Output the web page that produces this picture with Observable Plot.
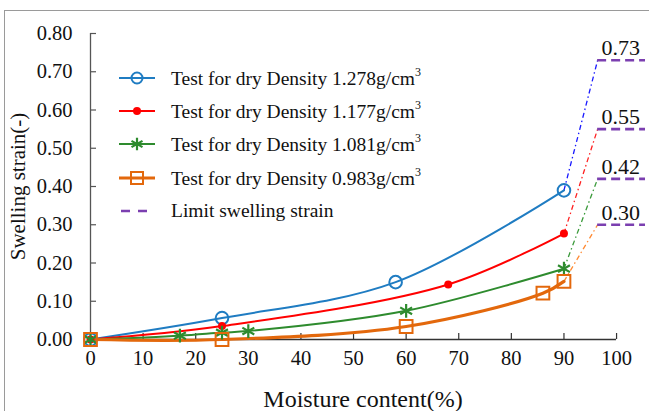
<!DOCTYPE html>
<html>
<head>
<meta charset="utf-8">
<script src="https://cdn.jsdelivr.net/npm/d3@7"></script>
<script src="https://cdn.jsdelivr.net/npm/@observablehq/plot@0.6"></script>
<style>
  html, body { margin: 0; padding: 0; background: #fff; }
  #wrap { position: relative; width: 649px; height: 411px; overflow: hidden; font-family: "Liberation Serif", "Times New Roman", serif; }
  #frame { position: absolute; left: 4px; top: 10px; width: 660px; height: 420px; border-left: 1px solid #9a9a9a; border-top: 1px solid #9a9a9a; pointer-events: none; }
  #legend { position: absolute; left: 118px; top: 61px; font-size: 19.5px; color: #111; white-space: nowrap; }
  #legend .row { display: flex; align-items: center; height: 33.3px; }
  #legend svg { width: 38px; height: 18px; margin-right: 15px; flex: none; }
  #legend sup { font-size: 12px; position: relative; top: -1px; }
</style>
</head>
<body>
<div id="wrap"><div id="frame"></div><div id="legend"></div></div>
<script>
// ---- data ----
const seriesNames = ["1.278", "1.177", "1.081", "0.983"];
const moisture1278 = [0, 25, 58, 90];
const strain1278   = [0, 0.056, 0.150, 0.390];
const moisture1177 = [0, 25, 68, 90];
const strain1177   = [0, 0.035, 0.144, 0.277];
const moisture1081 = [0, 17, 25, 30, 60, 90];
const strain1081   = [0, 0.010, 0.018, 0.022, 0.075, 0.185];
const moisture0983 = [0, 25, 60, 86, 90];
const strain0983   = [0, 0.0, 0.034, 0.121, 0.152];
const limitStrain  = [0.73, 0.55, 0.42, 0.30];
const limitX       = [96.4, 105.5];   // extent of the limit markers
const limitLabelX  = [100.8];
const xTicks = [0, 10, 20, 30, 40, 50, 60, 70, 80, 90, 100];
const yTicks = [0, 0.1, 0.2, 0.3, 0.4, 0.5, 0.6, 0.7, 0.8];

const colors     = ["#1f7cc2", "#ff0000", "#2e8b2e", "#e3680c"];
const dashColors = ["#1a1aff", "#ff2020", "#3a9a3a", "#ff8a33"];
const purple = "#7b3fb0";

const toPts = (xs, ys, k) => xs.map((x, i) => ({x, y: ys[i], k}));
const series = [
  toPts(moisture1278, strain1278, 0),
  toPts(moisture1177, strain1177, 1),
  toPts(moisture1081, strain1081, 2),
  toPts(moisture0983, strain0983, 3)
];
const extensions = series.map((s, k) => ({
  x1: s[s.length - 1].x, y1: s[s.length - 1].y, x2: limitX[0], y2: limitStrain[k], k
}));

const marks = [];
// axes lines & inward ticks
marks.push(Plot.ruleY([0], {x1: 0, x2: d3.max(xTicks), stroke: "#333", strokeWidth: 1.3}));
marks.push(Plot.ruleX([0], {y1: 0, y2: d3.max(yTicks), stroke: "#555", strokeWidth: 1.3}));
marks.push(Plot.ruleX(xTicks, {x: d => d, y1: 0, y2: 0, insetBottom: 6, stroke: "#333", strokeWidth: 1.2}));
marks.push(Plot.ruleY(yTicks, {y: d => d, x1: 0, x2: 0, insetRight: -6, stroke: "#555", strokeWidth: 1.2}));
marks.push(Plot.axisX({ticks: xTicks, tickSize: 0, tickPadding: 11, tickFormat: d => String(d), fontSize: 20.5, label: null}));
marks.push(Plot.axisY({ticks: yTicks, tickSize: 0, tickPadding: 18, tickFormat: d => d.toFixed(2), fontSize: 20.5, label: null}));
marks.push(Plot.text(["Moisture content(%)"], {frameAnchor: "bottom", textAnchor: "middle", dy: 67, dx: -5, fontSize: 24, fill: "#111"}));
marks.push(Plot.text(["Swelling strain(-)"], {frameAnchor: "left", textAnchor: "middle", lineAnchor: "middle", dx: -72, dy: 0, rotate: -90, fontSize: 21, fill: "#111"}));

// dash-dot extensions
extensions.forEach((e, k) => {
  marks.push(Plot.link([e], {x1: "x1", y1: "y1", x2: "x2", y2: "y2", stroke: dashColors[k], strokeWidth: 1.3, strokeDasharray: "5,3,1.5,3"}));
});
// limit lines
marks.push(Plot.ruleY(limitStrain, {y: d => d, x1: limitX[0], x2: limitX[1], stroke: purple, strokeWidth: 2.6, strokeDasharray: "9,5"}));
marks.push(Plot.text(limitStrain, {x: limitLabelX[0], y: d => d, text: d => d.toFixed(2), dy: -12, fontSize: 22, fill: "#111"}));

// curves
const widths = [2, 2, 2, 3.2];
series.forEach((s, k) => {
  marks.push(Plot.line(s, {x: "x", y: "y", curve: "catmull-rom", stroke: colors[k], strokeWidth: widths[k]}));
});
// markers
marks.push(Plot.dot(series[0], {x: "x", y: "y", r: 6.3, stroke: colors[0], strokeWidth: 2, fill: "none"}));
marks.push(Plot.dot(series[1], {x: "x", y: "y", r: 4, fill: colors[1], stroke: "none"}));
marks.push(Plot.dot(series[2], {x: "x", y: "y", symbol: "asterisk", r: 6.5, stroke: colors[2], strokeWidth: 2.2}));
marks.push(Plot.dot(series[3], {x: "x", y: "y", symbol: "square", r: 7.2, stroke: colors[3], strokeWidth: 2, fill: "none"}));

const chart = Plot.plot({
  width: 649, height: 411,
  marginLeft: 90, marginRight: 4, marginTop: 33, marginBottom: 72,
  x: {domain: [0, limitX[1]], axis: null},
  y: {domain: [0, d3.max(yTicks)], axis: null},
  style: {fontFamily: "'Liberation Serif', 'Times New Roman', serif", color: "#111", background: "transparent", overflow: "visible"},
  marks
});
chart.style.position = "absolute";
chart.style.left = "0px";
chart.style.top = "0px";
document.getElementById("wrap").appendChild(chart);

// legend
const swatch = (k) => {
  const c = colors[k];
  const line = `<line x1="1" x2="37" y1="9" y2="9" stroke="${c}" stroke-width="${k === 3 ? 3.2 : 2}"/>`;
  let m = "";
  if (k === 0) m = `<circle cx="19" cy="9" r="5.5" fill="none" stroke="${c}" stroke-width="2"/>`;
  if (k === 1) m = `<circle cx="19" cy="9" r="4" fill="${c}"/>`;
  if (k === 2) m = `<path d="${d3.symbol(d3.symbolAsterisk, Math.PI*36)()}" transform="translate(19,9)" stroke="${c}" stroke-width="2.2" fill="none"/>`;
  if (k === 3) m = `<rect x="13" y="3" width="12" height="12" fill="none" stroke="${c}" stroke-width="2"/>`;
  return `<svg viewBox="0 0 38 18">${line}${m}</svg>`;
};
const lg = document.getElementById("legend");
seriesNames.forEach((n, k) => {
  const row = document.createElement("div");
  row.className = "row";
  row.innerHTML = `${swatch(k)}<span>Test for dry Density ${n}g/cm<sup>3</sup></span>`;
  lg.appendChild(row);
});
const lrow = document.createElement("div");
lrow.className = "row";
lrow.innerHTML = `<svg viewBox="0 0 38 18"><line x1="3" x2="35" y1="9" y2="9" stroke="${purple}" stroke-width="2.6" stroke-dasharray="9,8"/></svg><span>Limit swelling strain</span>`;
lg.appendChild(lrow);
</script>
</body>
</html>
